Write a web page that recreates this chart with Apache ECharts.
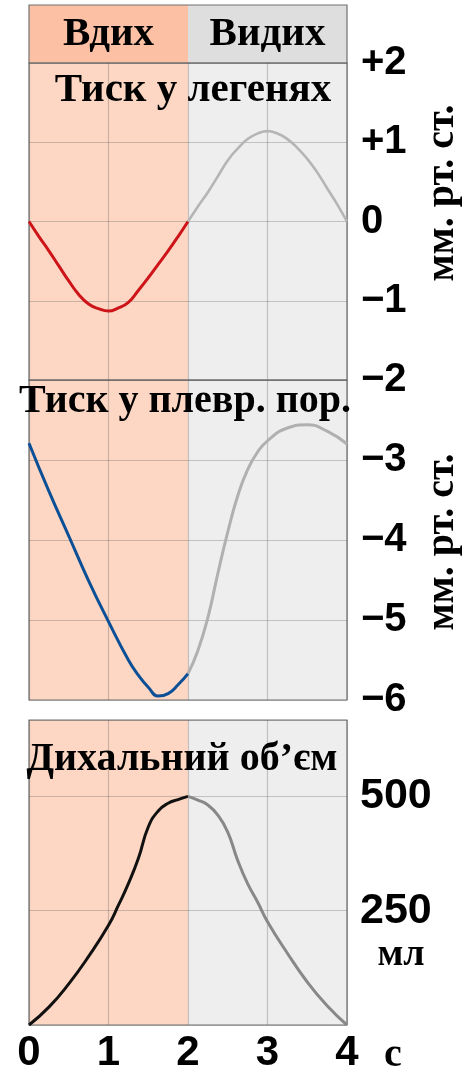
<!DOCTYPE html>
<html>
<head>
<meta charset="utf-8">
<script src="https://cdn.jsdelivr.net/npm/echarts@6/dist/echarts.min.js"></script>
<style>
  html, body { margin: 0; padding: 0; background: #fff; }
  #chart { width: 471px; height: 1074px; }
</style>
</head>
<body>
<div id="chart"></div>
<script>
// ---- data ----
const phases = ['Вдих', 'Видих'];
const phaseBounds = [[0, 2], [2, 4]];
const xTickLabels = ['0', '1', '2', '3', '4'];

const lungInT = [0, 0.125, 0.25, 0.375, 0.5, 0.625, 0.75, 0.875, 1, 1.125, 1.25, 1.375, 1.5, 1.625, 1.75, 1.875, 2];
const lungIn = [0, -0.19, -0.37, -0.56, -0.75, -0.92, -1.04, -1.1, -1.13, -1.09, -1.02, -0.87, -0.71, -0.54, -0.37, -0.19, 0];
const lungOutT = [2, 2.125, 2.25, 2.375, 2.5, 2.625, 2.75, 2.875, 3, 3.125, 3.25, 3.375, 3.5, 3.625, 3.75, 3.875, 4];
const lungOut = [0, 0.19, 0.37, 0.57, 0.77, 0.92, 1.04, 1.11, 1.14, 1.11, 1.04, 0.93, 0.79, 0.62, 0.42, 0.22, 0];

const pleuralInT = [0, 0.25, 0.5, 0.75, 1, 1.25, 1.375, 1.5, 1.625, 1.75, 1.875, 2];
const pleuralIn = [-2.79, -3.39, -3.95, -4.51, -5.02, -5.5, -5.69, -5.84, -5.95, -5.92, -5.81, -5.67];
const pleuralOutT = [2, 2.125, 2.25, 2.375, 2.5, 2.625, 2.75, 2.875, 3, 3.25, 3.5, 3.75, 4];
const pleuralOut = [-5.67, -5.38, -4.97, -4.42, -3.9, -3.45, -3.12, -2.9, -2.76, -2.6, -2.56, -2.64, -2.8];

const volInT = [0, 0.25, 0.5, 0.75, 1, 1.125, 1.25, 1.375, 1.5, 1.625, 1.75, 1.875, 2];
const volIn = [0, 39, 90, 150, 218, 262, 309, 364, 433, 468, 485, 493, 500];
const volOutT = [2, 2.125, 2.25, 2.375, 2.5, 2.625, 2.75, 2.875, 3, 3.25, 3.5, 3.75, 4];
const volOut = [500, 492, 481, 459, 422, 360, 309, 269, 226, 157, 94, 42, 0];

const titles = ['Тиск у легенях', 'Тиск у плевр. пор.', 'Дихальний об’єм'];
const pressureUnit = 'мм. рт. ст.';
const volumeUnit = 'мл';
const timeUnit = 'с';

// ---- helpers ----
const pairs = (t, v) => t.map((x, i) => [x, v[i]]);
const SERIF = '"Liberation Serif", "Times New Roman", serif';
const SANS = '"Liberation Sans", Arial, sans-serif';
const inhaleBody = '#fdd7c3';
const exhaleBody = '#eeeeee';
const inhaleHead = '#fcc0a5';
const exhaleHead = '#dedede';
const gridLine = 'rgba(90,90,90,0.30)';

const gridBase = { left: 29, right: 124, show: true, borderColor: '#707070', borderWidth: 1.2, backgroundColor: 'transparent', z: 3 };

function bgArea() {
  return {
    silent: true,
    label: { show: false },
    data: [
      [{ xAxis: phaseBounds[0][0], itemStyle: { color: inhaleBody } }, { xAxis: phaseBounds[0][1] }],
      [{ xAxis: phaseBounds[1][0], itemStyle: { color: exhaleBody } }, { xAxis: phaseBounds[1][1] }]
    ]
  };
}

function xAxisFor(gi, showLabel) {
  return {
    type: 'value', gridIndex: gi, min: 0, max: 4, interval: 1, z: 3,
    axisLine: { show: false }, axisTick: { show: false },
    splitLine: { show: gi !== 0, lineStyle: { color: gridLine, width: 1.2 } },
    axisLabel: {
      show: showLabel, margin: 7, color: '#000',
      fontFamily: SANS, fontWeight: 'bold', fontSize: 42,
      formatter: v => xTickLabels[Math.round(v)]
    }
  };
}

const pressFmt = v => v > 0 ? '+' + v : (v < 0 ? '\u2212' + Math.abs(v) : '0');

function yAxisFor(gi, min, max, interval, fmt) {
  return {
    type: 'value', gridIndex: gi, min: min, max: max, interval: interval, position: 'right', z: 3,
    axisLine: { show: false }, axisTick: { show: false },
    splitLine: { show: true, lineStyle: { color: gridLine, width: 1.2 } },
    axisLabel: {
      show: true, margin: 14, color: '#000', fontFamily: SANS, fontWeight: 'bold', fontSize: 40,
      formatter: fmt
    }
  };
}

function curve(name, xi, data, color, width, withBg) {
  const s = {
    name: name, type: 'line', xAxisIndex: xi, yAxisIndex: xi, data: data,
    smooth: 0.5, showSymbol: false, symbol: 'none', z: 4,
    lineStyle: { color: color, width: width }, silent: true, animation: false
  };
  if (withBg) s.markArea = bgArea();
  return s;
}

const chart = echarts.init(document.getElementById('chart'), null, { renderer: 'canvas' });

const textStyle = (txt, size) => ({ text: txt, font: 'bold ' + size + 'px ' + SERIF, fill: '#000', align: 'center', verticalAlign: 'middle' });

const option = {
  animation: false,
  backgroundColor: '#ffffff',
  grid: [
    Object.assign({}, gridBase, { top: 5, height: 58 }),
    Object.assign({}, gridBase, { top: 63, height: 317 }),
    Object.assign({}, gridBase, { top: 380, height: 320 }),
    Object.assign({}, gridBase, { top: 720, height: 312 })
  ],
  xAxis: [xAxisFor(0, false), xAxisFor(1, false), xAxisFor(2, false), xAxisFor(3, true)],
  yAxis: [
    { type: 'value', gridIndex: 0, min: 0, max: 1, show: false },
    yAxisFor(1, -2, 2, 1, pressFmt),
    yAxisFor(2, -6, -2, 1, pressFmt),
    yAxisFor(3, 0, 667, 250, v => String(v))
  ],
  series: [
    {
      name: 'header', type: 'line', xAxisIndex: 0, yAxisIndex: 0, data: [], silent: true,
      markArea: {
        silent: true,
        label: {
          show: true, position: 'inside', color: '#000',
          fontFamily: SERIF, fontWeight: 'bold', fontSize: 41
        },
        data: [
          [{ name: phases[0], xAxis: phaseBounds[0][0], itemStyle: { color: inhaleHead } }, { xAxis: phaseBounds[0][1] }],
          [{ name: phases[1], xAxis: phaseBounds[1][0], itemStyle: { color: exhaleHead } }, { xAxis: phaseBounds[1][1] }]
        ]
      }
    },
    curve('lungIn', 1, pairs(lungInT, lungIn), '#cc1419', 3, true),
    curve('lungOut', 1, pairs(lungOutT, lungOut), '#b5b5b5', 2.6, false),
    curve('pleuralIn', 2, pairs(pleuralInT, pleuralIn), '#0b4f96', 3, true),
    curve('pleuralOut', 2, pairs(pleuralOutT, pleuralOut), '#b0b0b0', 3, false),
    curve('volIn', 3, pairs(volInT, volIn), '#111111', 3, true),
    curve('volOut', 3, pairs(volOutT, volOut), '#888888', 3, false)
  ],
  graphic: [
    { type: 'text', x: 193, y: 90, z: 10, style: textStyle(titles[0], 41) },
    { type: 'text', x: 185, y: 402, z: 10, style: textStyle(titles[1], 40) },
    { type: 'text', x: 182, y: 760, z: 10, style: textStyle(titles[2], 40) },
    { type: 'text', x: 443, y: 193, rotation: Math.PI / 2, z: 10, style: textStyle(pressureUnit, 40) },
    { type: 'text', x: 443, y: 542, rotation: Math.PI / 2, z: 10, style: textStyle(pressureUnit, 40) },
    { type: 'text', x: 401, y: 955, z: 10, style: textStyle(volumeUnit, 38) },
    { type: 'text', x: 393, y: 1056, z: 10, style: textStyle(timeUnit, 40) }
  ]
};

option.yAxis[2].axisLabel.showMaxLabel = false;
option.yAxis[3].axisLabel.showMinLabel = false;
option.yAxis[3].axisLabel.showMaxLabel = false;
option.yAxis[3].axisLabel.fontSize = 43;
option.yAxis[3].axisLabel.margin = 13;

chart.setOption(option);
</script>
</body>
</html>
